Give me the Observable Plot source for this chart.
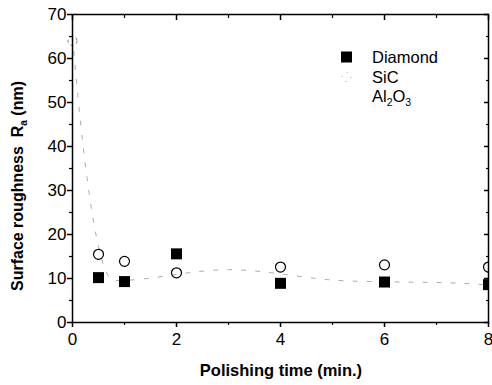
<!DOCTYPE html>
<html><head><meta charset="utf-8">
<script src="https://cdn.jsdelivr.net/npm/d3@7"></script>
<script src="https://cdn.jsdelivr.net/npm/@observablehq/plot@0.6"></script>
<style>
body{margin:0;background:#fff;}
#c{position:relative;width:492px;height:385px;}
svg{font-family:"Liberation Sans",Arial,sans-serif;}
</style></head>
<body><div id="c"></div>
<script>
const times = [0.5, 1, 2, 4, 6, 8];
const diamond = [10.2, 9.3, 15.6, 8.9, 9.2, 8.6];
const sicTimes = [0, 0.5, 1, 2, 4, 6, 8];
const sic = [64, 15.5, 13.9, 11.3, 12.6, 13.1, 12.6];
const aloTimes = [0, 0.21, 0.8, 3, 5.2, 7.5, 8];
const alo = [64.8, 39.5, 9.5, 12, 9.5, 8.9, 8.5];
const xTicks = [0, 2, 4, 6, 8];
const xMinor = [1, 3, 5, 7];
const yTicks = [0, 10, 20, 30, 40, 50, 60, 70];
const yMinor = [5, 15, 25, 35, 45, 55, 65];

const dData = times.map((t, i) => ({t, v: diamond[i]}));
const sData = sicTimes.map((t, i) => ({t, v: sic[i]}));
const aData = aloTimes.map((t, i) => ({t, v: alo[i]}));

const fs = 17;
const chart = Plot.plot({
  width: 492, height: 385,
  marginLeft: 72, marginRight: 4, marginTop: 14, marginBottom: 63,
  style: {fontFamily: '"Liberation Sans", Arial, sans-serif', fontSize: fs + "px", background: "#fff", color: "#000"},
  x: {domain: [0, 8]},
  y: {domain: [0, 70]},
  marks: [
    Plot.line(aData, {x: "t", y: "v", stroke: "#aaa", strokeWidth: 1, strokeDasharray: "4,10", curve: "monotone-x", clip: true}),
    Plot.dot(sData.slice(0,1), {x: "t", y: "v", r: 4.5, stroke: "#777", strokeWidth: 1, strokeDasharray: "3,3", fill: "none"}),
    Plot.dot(sData.slice(1), {x: "t", y: "v", r: 5, stroke: "#000", strokeWidth: 1.2, fill: "none", clip: true}),
    Plot.dot(dData, {x: "t", y: "v", symbol: "square", r: 6.2, fill: "#000", clip: true}),
    Plot.frame({stroke: "#000", strokeWidth: 1.5}),
    Plot.axisX({ticks: xTicks, tickSize: 5, tickPadding: 5, label: null, fontSize: fs, strokeWidth: 1.5}),
    Plot.axisX({ticks: xMinor, tickSize: 3, tickFormat: () => "", label: null, strokeWidth: 1.2}),
    Plot.axisX({anchor: "top", ticks: xTicks, tickSize: -5, tickFormat: () => "", label: null, strokeWidth: 1.5}),
    Plot.axisX({anchor: "top", ticks: xMinor, tickSize: -3, tickFormat: () => "", label: null, strokeWidth: 1.2}),
    Plot.axisY({ticks: yTicks, tickSize: 5, tickPadding: 1, label: null, fontSize: fs, strokeWidth: 1.5}),
    Plot.axisY({ticks: yMinor, tickSize: 3, tickFormat: () => "", label: null, strokeWidth: 1.2}),
    Plot.axisY({anchor: "right", ticks: yTicks, tickSize: -5, tickFormat: () => "", label: null, strokeWidth: 1.5}),
    Plot.axisY({anchor: "right", ticks: yMinor, tickSize: -3, tickFormat: () => "", label: null, strokeWidth: 1.2})
  ]
});
document.getElementById("c").appendChild(chart);

const svg = d3.select(chart);
// axis titles
svg.append("text").attr("x", 281).attr("y", 376).attr("text-anchor", "middle")
  .attr("font-size", 16.5).attr("font-weight", "bold").text("Polishing time (min.)");
const yt = svg.append("text").attr("transform", "translate(23,186) rotate(-90)")
  .attr("text-anchor", "middle").attr("font-size", 16).attr("font-weight", "bold");
yt.append("tspan").text("Surface roughness  R");
yt.append("tspan").attr("font-size", 10).attr("dy", 4).text("a");
yt.append("tspan").attr("dy", -4).text(" (nm)");

// legend
const lg = svg.append("g").attr("text-anchor", "start");
const labels = ["Diamond", "SiC", "Al2O3"];
const ly = [57, 77, 99];
lg.append("rect").attr("x", 341).attr("y", ly[0] - 5.5).attr("width", 11).attr("height", 11).attr("fill", "#000");
lg.append("circle").attr("cx", 346.5).attr("cy", ly[1]).attr("r", 4.5).attr("fill", "none")
  .attr("stroke", "#999").attr("stroke-dasharray", "1,6");
const t0 = lg.append("text").attr("x", 372).attr("y", ly[0] + 6).attr("font-size", 16.5).attr("text-anchor", "start").text(labels[0]);
const t1 = lg.append("text").attr("x", 372).attr("y", ly[1] + 6).attr("font-size", 16.5).attr("text-anchor", "start").text(labels[1]);
const t2 = lg.append("text").attr("x", 372).attr("y", ly[2] + 3).attr("font-size", 16.5).attr("text-anchor", "start");
t2.append("tspan").text("Al");
t2.append("tspan").attr("font-size", 10.5).attr("dy", 4).text("2");
t2.append("tspan").attr("dy", -4).text("O");
t2.append("tspan").attr("font-size", 10.5).attr("dy", 4).text("3");
</script></body></html>
